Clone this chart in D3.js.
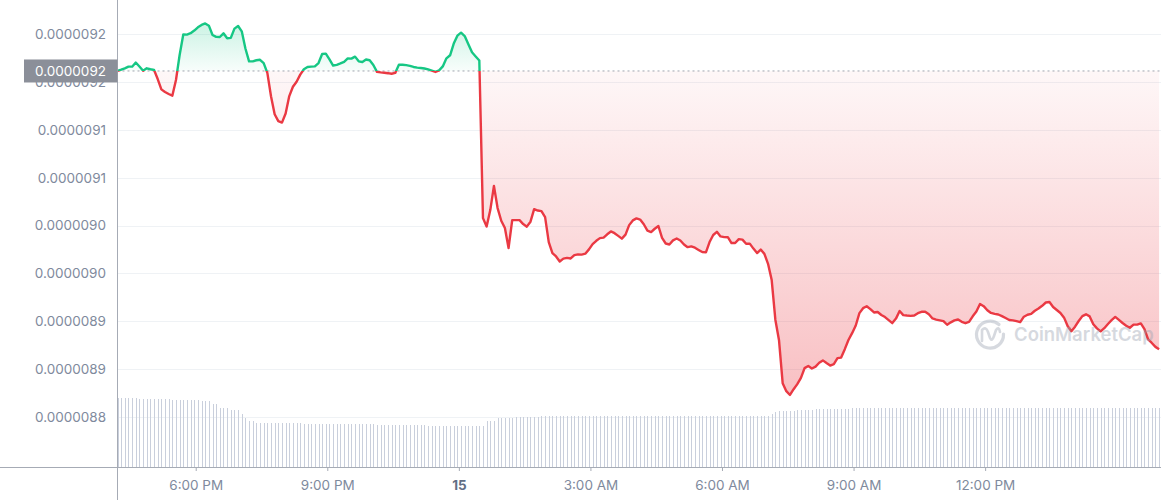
<!DOCTYPE html>
<html><head><meta charset="utf-8">
<script src="https://cdn.jsdelivr.net/npm/d3@7"></script>
<style>
body{margin:0;background:#fff;}
svg{display:block;font-family:Inter,"Noto Sans",sans-serif;}
</style>
</head><body>
<svg id="chart" width="1161" height="500"></svg>
<script>
// ---------- data ----------
const startTime = new Date(2023, 5, 14, 16, 13);
const stepMinutes = 5;

const price = [
9.1614e-6,9.1627e-6,9.1642e-6,9.1660e-6,9.1659e-6,9.1702e-6,9.1661e-6,9.1617e-6,9.1642e-6,9.1632e-6,
9.1625e-6,9.1530e-6,9.1422e-6,9.1394e-6,9.1374e-6,9.1356e-6,9.1520e-6,9.1781e-6,9.1995e-6,9.1994e-6,
9.2008e-6,9.2036e-6,9.2070e-6,9.2095e-6,9.2110e-6,9.2087e-6,9.1990e-6,9.1970e-6,9.1969e-6,9.2007e-6,
9.1956e-6,9.1960e-6,9.2056e-6,9.2084e-6,9.2028e-6,9.1849e-6,9.1715e-6,9.1714e-6,9.1726e-6,9.1731e-6,
9.1696e-6,9.1594e-6,9.1350e-6,9.1162e-6,9.1091e-6,9.1075e-6,9.1170e-6,9.1352e-6,9.1449e-6,9.1502e-6,
9.1576e-6,9.1632e-6,9.1656e-6,9.1659e-6,9.1662e-6,9.1697e-6,9.1791e-6,9.1795e-6,9.1736e-6,9.1671e-6,
9.1678e-6,9.1693e-6,9.1710e-6,9.1746e-6,9.1743e-6,9.1764e-6,9.1715e-6,9.1708e-6,9.1734e-6,9.1726e-6,
9.1677e-6,9.1605e-6,9.1599e-6,9.1595e-6,9.1591e-6,9.1585e-6,9.1594e-6,9.1680e-6,9.1679e-6,9.1675e-6,
9.1668e-6,9.1656e-6,9.1649e-6,9.1645e-6,9.1640e-6,9.1631e-6,9.1618e-6,9.1604e-6,9.1620e-6,9.1662e-6,
9.1746e-6,9.1778e-6,9.1900e-6,9.1983e-6,9.2014e-6,9.1979e-6,9.1894e-6,9.1809e-6,9.1766e-6,9.1724e-6,
9.0078e-6,8.9990e-6,9.0162e-6,9.0413e-6,9.0183e-6,9.0051e-6,8.9974e-6,8.9765e-6,9.0057e-6,9.0057e-6,
9.0057e-6,9.0016e-6,8.9989e-6,9.0041e-6,9.0172e-6,9.0157e-6,9.0151e-6,9.0089e-6,8.9828e-6,8.9713e-6,
8.9678e-6,8.9626e-6,8.9655e-6,8.9663e-6,8.9657e-6,8.9692e-6,8.9700e-6,8.9697e-6,8.9707e-6,8.9752e-6,
8.9807e-6,8.9841e-6,8.9869e-6,8.9874e-6,8.9909e-6,8.9939e-6,8.9921e-6,8.9893e-6,8.9864e-6,8.9906e-6,
9.0005e-6,9.0054e-6,9.0075e-6,9.0063e-6,9.0014e-6,8.9947e-6,8.9932e-6,8.9967e-6,8.9996e-6,8.9872e-6,
8.9813e-6,8.9803e-6,8.9846e-6,8.9865e-6,8.9844e-6,8.9802e-6,8.9775e-6,8.9783e-6,8.9769e-6,8.9746e-6,
8.9724e-6,8.9721e-6,8.9828e-6,8.9902e-6,8.9935e-6,8.9887e-6,8.9880e-6,8.9879e-6,8.9818e-6,8.9818e-6,
8.9859e-6,8.9854e-6,8.9811e-6,8.9812e-6,8.9760e-6,8.9713e-6,8.9750e-6,8.9705e-6,8.9601e-6,8.9431e-6,
8.9018e-6,8.8804e-6,8.8355e-6,8.8272e-6,8.8232e-6,8.8292e-6,8.8345e-6,8.8411e-6,8.8512e-6,8.8535e-6,
8.8508e-6,8.8528e-6,8.8568e-6,8.8593e-6,8.8565e-6,8.8539e-6,8.8554e-6,8.8616e-6,8.8622e-6,8.8710e-6,
8.8806e-6,8.8877e-6,8.8957e-6,8.9086e-6,8.9138e-6,8.9158e-6,8.9128e-6,8.9093e-6,8.9098e-6,8.9067e-6,
8.9045e-6,8.9013e-6,8.8982e-6,8.9029e-6,8.9108e-6,8.9065e-6,8.9061e-6,8.9058e-6,8.9062e-6,8.9086e-6,
8.9100e-6,8.9100e-6,8.9074e-6,8.9031e-6,8.9019e-6,8.9011e-6,8.9003e-6,8.8965e-6,8.8990e-6,8.9010e-6,
8.9020e-6,8.8995e-6,8.8981e-6,8.8994e-6,8.9053e-6,8.9103e-6,8.9182e-6,8.9159e-6,8.9117e-6,8.9088e-6,
8.9078e-6,8.9072e-6,8.9055e-6,8.9035e-6,8.9015e-6,8.9011e-6,8.9003e-6,8.8992e-6,8.9049e-6,8.9069e-6,
8.9079e-6,8.9111e-6,8.9134e-6,8.9163e-6,8.9197e-6,8.9202e-6,8.9150e-6,8.9119e-6,8.9088e-6,8.9039e-6,
8.8949e-6,8.8898e-6,8.8945e-6,8.9004e-6,8.9055e-6,8.9074e-6,8.9052e-6,8.8971e-6,8.8927e-6,8.8896e-6,
8.8929e-6,8.8973e-6,8.9013e-6,8.9047e-6,8.9015e-6,8.8983e-6,8.8955e-6,8.8934e-6,8.8966e-6,8.8966e-6,
8.8979e-6,8.8919e-6,8.8811e-6,8.8775e-6,8.8734e-6,8.8710e-6
];

// volume (relative units) per 5-minute bar
const volume = [
69.5,69.5,69.5,69.5,69.5,69.5,68.5,68.5,68.5,68.5,
68.5,68.5,68.5,68.5,68.5,67,67,67,67,67,
67,67,67,66,66,66,63,63,59,59,
59,57,57,57,53,49,46,46,44,44,
44,44,44,44,44,44,44,44,44,44,
44,43,43,43,43,43,43,43,43,43,
43,43,43,43,43,43,43,43,43,43,
43,42,42,42,42,42,42,42,42,42,
42,42,42,42,42,41,41,41,41,41,
41,41,41,41,41,41,41,41,41,41,
41,46,46,46,49,49,49,49,49,50,
50,50,50,50,50,50,51,51,51,51,
51,51,51,51,51,51,51,51,51,51,
51,51,51,51,51,51,51,51,51,51,
51,51,51,51,51,51,51,51,51,51,
51,51,51,51,51,51,51,51,51,51,
51,51,51,51,51,51,51,51,51,51,
51,51,51,51,51,51,51,51,51,53,
55,56,56,56,56,56,57.5,57.5,57.5,57.5,
57.5,58.5,58.5,58.5,58.5,58.5,58.5,58.5,58.5,58.5,
58.5,59.5,59.5,59.5,59.5,59.5,59.5,59.5,59.5,59.5,
59.5,59.5,59.5,59.5,59.5,59.5,59.5,59.5,59.5,59.5,
59.5,59.5,59.5,59.5,59.5,59.5,59.5,59.5,59.5,59.5,
59.5,59.5,59.5,59.5,59.5,59.5,59.5,59.5,59.5,59.5,
59.5,59.5,59.5,59.5,59.5,59.5,59.5,59.5,59.5,59.5,
59.5,59.5,59.5,59.5,59.5,59.5,59.5,59.5,59.5,59.5,
59.5,59.5,59.5,59.5,59.5,59.5,59.5,59.5,59.5,59.5,
59.5,59.5,59.5,59.5,59.5,59.5,59.5,59.5,59.5,59.5,
59.5,59.5,59.5,59.5,59.5,59.5
];

const yTickValues = [9.20e-6, 9.15e-6, 9.10e-6, 9.05e-6, 9.00e-6, 8.95e-6, 8.90e-6, 8.85e-6, 8.80e-6];
const yTickLabels = ["0.0000092","0.0000092","0.0000091","0.0000091","0.0000090","0.0000090","0.0000089","0.0000089","0.0000088"];
const xTickTimes = [
  new Date(2023,5,14,18,0), new Date(2023,5,14,21,0), new Date(2023,5,15,0,0),
  new Date(2023,5,15,3,0), new Date(2023,5,15,6,0), new Date(2023,5,15,9,0), new Date(2023,5,15,12,0)
];
const xTickLabels = ["6:00 PM","9:00 PM","15","3:00 AM","6:00 AM","9:00 AM","12:00 PM"];
const watermarkText = "CoinMarketCap";

// ---------- layout ----------
const W = 1161, H = 500;
const plotLeft = 117.5, plotRight = 1159.1, plotTop = 0, plotBottom = 467;
const GREEN = "#16c784", RED = "#ea3943", AXIS = "#a6abb5", TEXT = "#808a9d", GRID = "#eff2f5";

const times = price.map((_, i) => new Date(+startTime + i * stepMinutes * 60000));
const x = d3.scaleTime().domain(d3.extent(times)).range([plotLeft, plotRight]);
const y = d3.scaleLinear().domain([8.748e-6, 9.2355e-6]).range([plotBottom, plotTop]);
const vy = d3.scaleLinear().domain([0, 70]).range([plotBottom, plotBottom - 70]);

const svg = d3.select("#chart");
const defs = svg.append("defs");
const baseVal = price[0];
const baseY = y(baseVal);

// gradients
const gG = defs.append("linearGradient").attr("id","gGreen").attr("gradientUnits","userSpaceOnUse")
  .attr("x1",0).attr("x2",0).attr("y1",y(d3.max(price))).attr("y2",baseY);
gG.append("stop").attr("offset","0%").attr("stop-color",GREEN).attr("stop-opacity",0.22);
gG.append("stop").attr("offset","100%").attr("stop-color",GREEN).attr("stop-opacity",0.03);
const gR = defs.append("linearGradient").attr("id","gRed").attr("gradientUnits","userSpaceOnUse")
  .attr("x1",0).attr("x2",0).attr("y1",baseY).attr("y2",y(d3.min(price)));
gR.append("stop").attr("offset","0%").attr("stop-color",RED).attr("stop-opacity",0.04);
gR.append("stop").attr("offset","100%").attr("stop-color",RED).attr("stop-opacity",0.32);

defs.append("clipPath").attr("id","clipUp").append("rect")
  .attr("x",plotLeft).attr("y",plotTop).attr("width",W-plotLeft).attr("height",baseY-plotTop);
defs.append("clipPath").attr("id","clipDown").append("rect")
  .attr("x",plotLeft).attr("y",baseY).attr("width",W-plotLeft).attr("height",plotBottom-baseY);

// grid lines
svg.append("g").selectAll("line").data(yTickValues).join("line")
  .attr("x1",plotLeft).attr("x2",W).attr("y1",d=>Math.round(y(d))+0.5).attr("y2",d=>Math.round(y(d))+0.5)
  .attr("stroke",GRID).attr("stroke-width",1);

// volume bars
svg.append("g").attr("shape-rendering","crispEdges").selectAll("rect").data(volume).join("rect")
  .attr("x",(d,i)=>Math.round(x(times[i]))).attr("width",1)
  .attr("y",d=>vy(d)).attr("height",d=>plotBottom-vy(d))
  .attr("fill","#c9cfdc");

// areas
const area = d3.area().x((d,i)=>x(times[i])).y0(baseY).y1(d=>y(d));
svg.append("path").datum(price).attr("d",area).attr("fill","url(#gGreen)").attr("clip-path","url(#clipUp)");
svg.append("path").datum(price).attr("d",area).attr("fill","url(#gRed)").attr("clip-path","url(#clipDown)");

// baseline dashed
svg.append("line").attr("x1",plotLeft).attr("x2",W).attr("y1",baseY).attr("y2",baseY)
  .attr("stroke","#a0a5ae").attr("stroke-width",1).attr("stroke-dasharray","2,3");

// line
const line = d3.line().x((d,i)=>x(times[i])).y(d=>y(d));
svg.append("path").datum(price).attr("d",line).attr("fill","none").attr("stroke",GREEN)
  .attr("stroke-width",2.4).attr("stroke-linejoin","round").attr("clip-path","url(#clipUp)");
svg.append("path").datum(price).attr("d",line).attr("fill","none").attr("stroke",RED)
  .attr("stroke-width",2.4).attr("stroke-linejoin","round").attr("clip-path","url(#clipDown)");

// y axis labels
const yAxis = d3.axisLeft(y).tickValues(yTickValues).tickFormat((d,i)=>yTickLabels[i]).tickSize(0).tickPadding(11.5);
const gy = svg.append("g").attr("transform",`translate(${plotLeft},0)`).call(yAxis);
gy.select(".domain").remove();
gy.selectAll("text").attr("fill",TEXT).attr("font-size",13.5).attr("font-family","Inter, sans-serif");

// x axis
const xAxis = d3.axisBottom(x).tickValues(xTickTimes).tickFormat((d,i)=>xTickLabels[i]).tickSize(4).tickPadding(9);
const gx = svg.append("g").attr("transform",`translate(0,${plotBottom})`).call(xAxis);
gx.select(".domain").remove();
gx.selectAll("line").attr("stroke",AXIS);
gx.selectAll("text").attr("fill",TEXT).attr("font-size",13.5).attr("font-family","Inter, sans-serif")
  .attr("font-weight",(d,i)=>xTickLabels[i]==="15"?700:400)
  .attr("fill",(d,i)=>xTickLabels[i]==="15"?"#616e85":TEXT);

// axis lines
svg.append("line").attr("x1",0).attr("x2",W).attr("y1",plotBottom+0.5).attr("y2",plotBottom+0.5).attr("stroke",AXIS);
svg.append("line").attr("x1",plotLeft).attr("x2",plotLeft).attr("y1",0).attr("y2",H).attr("stroke",AXIS);

// current/base price label (covers the hidden second tick label, as in the original)
const lab = svg.append("g");
lab.append("rect").attr("x",24).attr("y",baseY-11.5).attr("width",plotLeft-24).attr("height",23).attr("fill","#8b8f99");
lab.append("text").attr("x",plotLeft-11.5).attr("y",baseY).attr("dy","0.35em").attr("text-anchor","end")
  .attr("fill","#fff").attr("font-size",13.5).text(d3.format(".7f")(baseVal));

// watermark
const wm = svg.append("g").attr("opacity",0.4);
wm.append("path").attr("d","M1003.5,334 A13.5,13.5 0 1 1 999,324.5")
  .attr("fill","none").attr("stroke","#9aa2b0").attr("stroke-width",3.2).attr("stroke-linecap","round");
wm.append("path").attr("d","M982,341 L982,330 Q986,326 988,332 L990,338 Q992,342 994,336 L996,330 Q999,326 1000,332")
  .attr("fill","none").attr("stroke","#9aa2b0").attr("stroke-width",2.6).attr("stroke-linecap","round").attr("stroke-linejoin","round");
wm.append("text").attr("x",1014).attr("y",341).attr("font-size",18.5).attr("font-weight",600)
  .attr("fill","#9aa2b0").text(watermarkText);
</script>
</body></html>
